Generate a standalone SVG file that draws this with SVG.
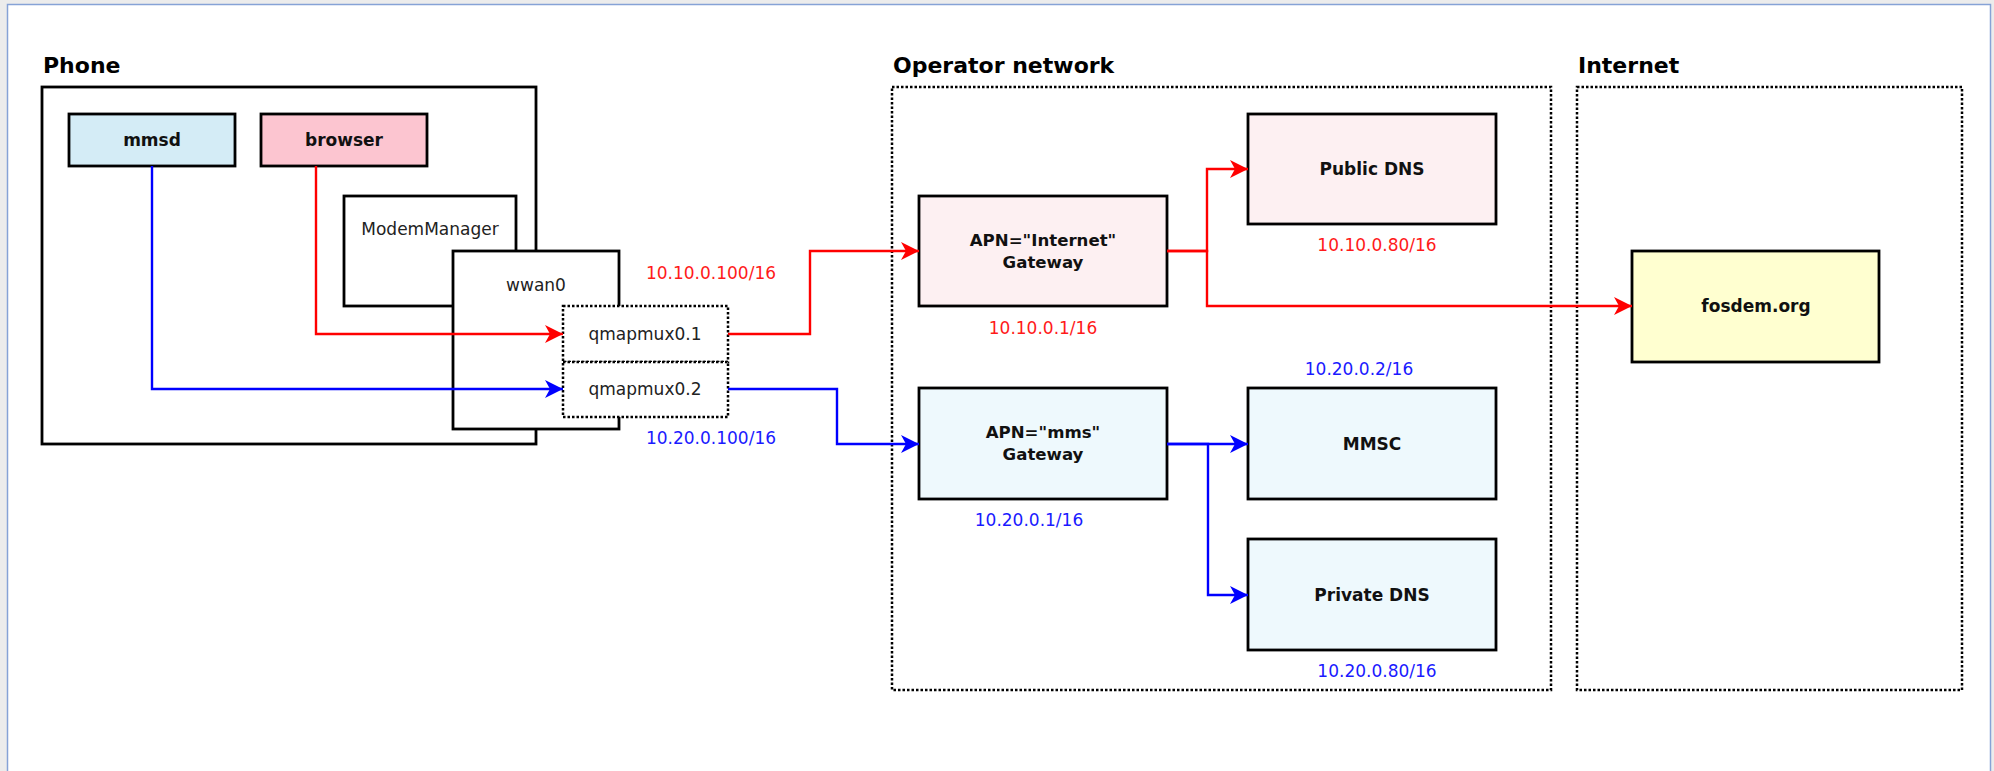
<svg xmlns="http://www.w3.org/2000/svg" width="1994" height="771" viewBox="0 0 1994 771">
<style>
.t{font-family:"DejaVu Sans","Liberation Sans",sans-serif;}
.title{font-size:22px;font-weight:bold;fill:#000;}
.nb{font-size:17px;font-weight:bold;fill:#111;text-anchor:middle;}
.gw{font-size:16.6px;font-weight:bold;fill:#111;text-anchor:middle;}
.nr{font-size:17px;fill:#222;text-anchor:middle;}
.ipr{font-size:17px;fill:#ff1a1a;text-anchor:middle;}
.ipb{font-size:17px;fill:#1a1aff;text-anchor:middle;}
.box{stroke:#000;stroke-width:2.8;}
.dot{fill:none;stroke:#000;stroke-width:2.5;stroke-dasharray:2.5,2;}
.cr{fill:none;stroke:#ff0000;stroke-width:2.4;}
.cb{fill:none;stroke:#0000ff;stroke-width:2.4;}
</style>
<defs>
<marker id="ar" markerUnits="userSpaceOnUse" markerWidth="20" markerHeight="20" refX="18" refY="9" orient="auto"><path d="M0,0 L18,9 L0,18 L5,9 Z" fill="#ff0000"/></marker>
<marker id="ab" markerUnits="userSpaceOnUse" markerWidth="20" markerHeight="20" refX="18" refY="9" orient="auto"><path d="M0,0 L18,9 L0,18 L5,9 Z" fill="#0000ff"/></marker>
</defs>
<rect x="0" y="0" width="1994" height="771" fill="#ececec"/>
<rect x="7.5" y="4.5" width="1983" height="800" fill="#ffffff" stroke="#86a2d6" stroke-width="1.5"/>

<g id="phone">
<text class="t title" x="43" y="73">Phone</text>
<rect class="box" x="42" y="87" width="494" height="357" fill="#fff"/>
</g>
<g id="mmsd">
<rect class="box" x="69" y="114" width="166" height="52" fill="#d4ecf6"/>
<text class="t nb" x="152" y="146">mmsd</text>
</g>
<g id="browser">
<rect class="box" x="261" y="114" width="166" height="52" fill="#fcc5d0"/>
<text class="t nb" x="344" y="146">browser</text>
</g>
<g id="modemmanager">
<rect class="box" x="344" y="196" width="172" height="110" fill="#fff"/>
<text class="t nr" x="430" y="235">ModemManager</text>
</g>
<g id="wwan0">
<rect class="box" x="453" y="251" width="166" height="178" fill="#fff"/>
<text class="t nr" x="536" y="291">wwan0</text>
</g>
<g id="qmapmux01">
<rect class="dot" x="563" y="306" width="165" height="56" style="fill:#fff"/>
<text class="t nr" x="645" y="340">qmapmux0.1</text>
</g>
<g id="qmapmux02">
<rect class="dot" x="563" y="362" width="165" height="55" style="fill:#fff"/>
<text class="t nr" x="645" y="395">qmapmux0.2</text>
</g>

<g id="operator">
<text class="t title" x="893" y="73">Operator network</text>
<rect class="dot" x="892" y="87" width="659" height="603"/>
</g>
<g id="gw-internet">
<rect class="box" x="919" y="196" width="248" height="110" fill="#fdf0f2"/>
<text class="t gw" x="1043" y="246">APN="Internet"</text>
<text class="t gw" x="1043" y="268">Gateway</text>
</g>
<g id="public-dns">
<rect class="box" x="1248" y="114" width="248" height="110" fill="#fdf0f2"/>
<text class="t nb" x="1372" y="175">Public DNS</text>
</g>
<g id="gw-mms">
<rect class="box" x="919" y="388" width="248" height="111" fill="#eef9fd"/>
<text class="t gw" x="1043" y="438">APN="mms"</text>
<text class="t gw" x="1043" y="460">Gateway</text>
</g>
<g id="mmsc">
<rect class="box" x="1248" y="388" width="248" height="111" fill="#eef9fd"/>
<text class="t nb" x="1372" y="450">MMSC</text>
</g>
<g id="private-dns">
<rect class="box" x="1248" y="539" width="248" height="111" fill="#eef9fd"/>
<text class="t nb" x="1372" y="601">Private DNS</text>
</g>

<g id="internet">
<text class="t title" x="1578" y="73">Internet</text>
<rect class="dot" x="1577" y="87" width="385" height="603"/>
</g>
<g id="fosdem">
<rect class="box" x="1632" y="251" width="247" height="111" fill="#ffffd0"/>
<text class="t nb" x="1756" y="312">fosdem.org</text>
</g>

<g id="labels">
<text class="t ipr" x="711" y="279">10.10.0.100/16</text>
<text class="t ipb" x="711" y="444">10.20.0.100/16</text>
<text class="t ipr" x="1043" y="334">10.10.0.1/16</text>
<text class="t ipr" x="1377" y="251">10.10.0.80/16</text>
<text class="t ipb" x="1359" y="375">10.20.0.2/16</text>
<text class="t ipb" x="1029" y="526">10.20.0.1/16</text>
<text class="t ipb" x="1377" y="677">10.20.0.80/16</text>
</g>

<g id="connectors">
<path class="cr" d="M316,166 V334 H563" marker-end="url(#ar)"/>
<path class="cb" d="M152,166 V389 H563" marker-end="url(#ab)"/>
<path class="cr" d="M728,334 H810 V251 H919" marker-end="url(#ar)"/>
<path class="cb" d="M728,389 H837 V444 H919" marker-end="url(#ab)"/>
<path class="cr" d="M1167,251 H1207 V169 H1248" marker-end="url(#ar)"/>
<path class="cr" d="M1167,251 H1207 V306 H1632" marker-end="url(#ar)"/>
<path class="cb" d="M1167,444 H1248" marker-end="url(#ab)"/>
<path class="cb" d="M1167,444 H1208 V595 H1248" marker-end="url(#ab)"/>
</g>
</svg>
